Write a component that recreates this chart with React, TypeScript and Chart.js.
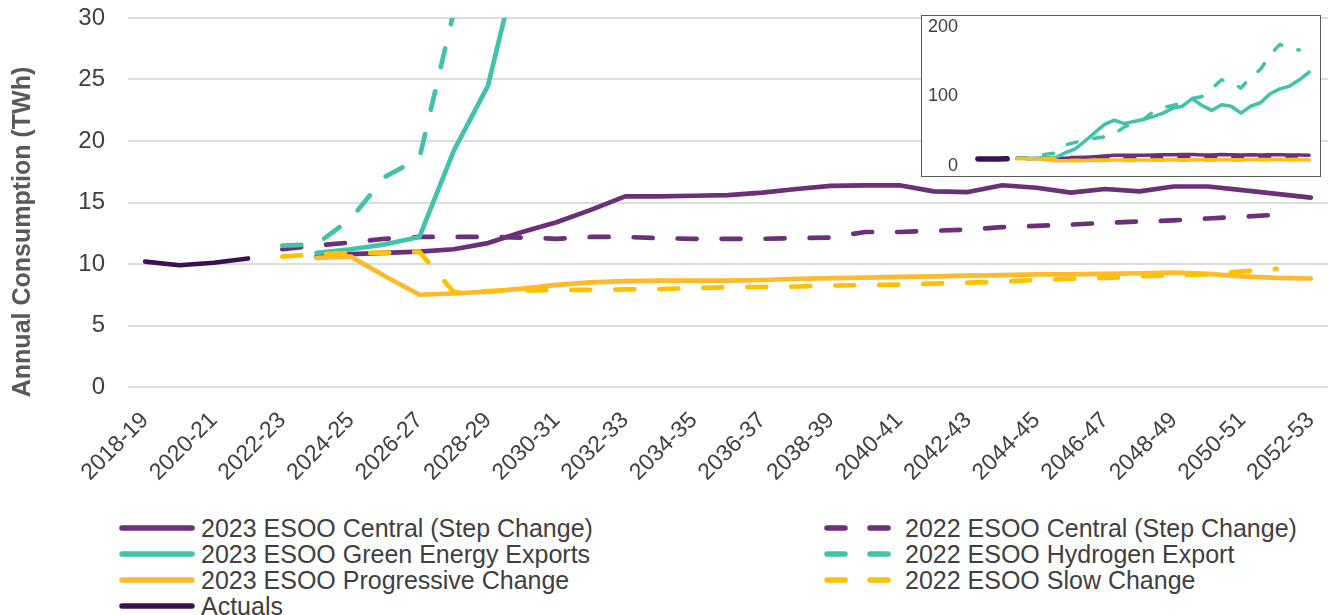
import React, { useEffect, useRef } from 'react';
import { Chart, registerables } from 'chart.js';

Chart.register(...registerables);

// ---------- data ----------
const categories = [
  '2018-19', '2019-20', '2020-21', '2021-22', '2022-23', '2023-24', '2024-25',
  '2025-26', '2026-27', '2027-28', '2028-29', '2029-30', '2030-31', '2031-32',
  '2032-33', '2033-34', '2034-35', '2035-36', '2036-37', '2037-38', '2038-39',
  '2039-40', '2040-41', '2041-42', '2042-43', '2043-44', '2044-45', '2045-46',
  '2046-47', '2047-48', '2048-49', '2049-50', '2050-51', '2051-52', '2052-53',
];

const actuals = [
  10.2, 9.9, 10.1, 10.45, null, null, null, null, null, null, null, null, null, null,
  null, null, null, null, null, null, null, null, null, null, null, null, null, null,
  null, null, null, null, null, null, null,
];

const central2023 = [
  null, null, null, null, null, 10.6, 10.8, 10.9, 11.0, 11.2, 11.7, 12.6, 13.4, 14.4,
  15.5, 15.5, 15.55, 15.6, 15.8, 16.1, 16.35, 16.4, 16.4, 15.9, 15.85, 16.4, 16.2, 15.8,
  16.1, 15.9, 16.3, 16.3, 16.0, 15.7, 15.4,
];

const central2022 = [
  null, null, null, null, 11.2, 11.5, 11.75, 12.05, 12.2, 12.2, 12.2, 12.15, 12.05, 12.2,
  12.2, 12.1, 12.05, 12.05, 12.05, 12.1, 12.15, 12.6, 12.6, 12.7, 12.8, 13.0, 13.1, 13.2,
  13.35, 13.45, 13.55, 13.7, 13.85, 14.0, null,
];

const greenExports2023 = [
  null, null, null, null, null, 10.9, 11.2, 11.6, 12.2, 19.2, 24.5, 36, 48, 60,
  66, 61, 64, 67, 71, 76, 83, 86, 97, 87, 80, 88, 86, 76,
  86, 91, 104, 111, 115, 124, 135,
];

const hydrogen2022 = [
  null, null, null, null, 11.5, 11.6, 13.7, 17.1, 18.6, 30.5, 34, 38, 40, 42,
  46, 56, 62, 67, 78, 84, 87, 91, 97, 100, 111, 124, 121, 112,
  128, 139, 160, 175, 168, 167, null,
];

const progressive2023 = [
  null, null, null, null, null, 10.5, 10.6, 9.0, 7.5, 7.6, 7.75, 8.0, 8.3, 8.5,
  8.6, 8.65, 8.65, 8.65, 8.7, 8.8, 8.85, 8.9, 8.95, 9.0, 9.05, 9.1, 9.15, 9.15,
  9.2, 9.25, 9.3, 9.2, 9.0, 8.87, 8.82,
];

const slow2022 = [
  null, null, null, null, 10.6, 10.8, 10.9, 10.9, 11.0, 7.7, 7.8, 7.85, 7.88, 7.9,
  7.93, 7.96, 8.05, 8.1, 8.13, 8.17, 8.25, 8.28, 8.33, 8.4, 8.48, 8.58, 8.7, 8.8,
  8.87, 9.0, 9.08, 9.15, 9.4, 9.6, null,
];

const mainYTicks = [0, 5, 10, 15, 20, 25, 30];
const insetYTicks = [0, 100, 200];

// ---------- styling ----------
const FONT = "'Liberation Sans', Arial, sans-serif";
const PURPLE = '#6B3079';
const TEAL = '#41C2A9';
const ORANGE = '#FDBA2C';
const YELLOW = '#FFC000';
const DARK = '#3C1053';
const TEXT = '#404040';

type Series = { label: string; data: (number | null)[]; color: string; dashed: boolean };

// Excel series order (legend flows row-wise, two columns)
const SERIES: Series[] = [
  { label: '2023 ESOO Central (Step Change)', data: central2023, color: PURPLE, dashed: false },
  { label: '2022 ESOO Central (Step Change)', data: central2022, color: PURPLE, dashed: true },
  { label: '2023 ESOO Green Energy Exports', data: greenExports2023, color: TEAL, dashed: false },
  { label: '2022 ESOO Hydrogen Export', data: hydrogen2022, color: TEAL, dashed: true },
  { label: '2023 ESOO Progressive Change', data: progressive2023, color: ORANGE, dashed: false },
  { label: '2022 ESOO Slow Change', data: slow2022, color: YELLOW, dashed: true },
  { label: 'Actuals', data: actuals, color: DARK, dashed: false },
];

const MAIN_W = 1328;
const MAIN_H = 505;
const PLOT_LEFT = 128;
const PLOT_TOP = 18;
const PLOT_BOTTOM = 387;

function buildDatasets(width: number, dash: number[], actualWidth: number) {
  // later Excel series are drawn on top: Chart.js draws index 0 last
  return [...SERIES].reverse().map((s) => ({
    label: s.label,
    data: s.data,
    borderColor: s.color,
    backgroundColor: s.color,
    borderWidth: s.label === 'Actuals' ? actualWidth : width,
    borderDash: s.dashed ? dash : [],
    borderCapStyle: 'round' as const,
    borderJoinStyle: 'round' as const,
    pointRadius: 0,
    fill: false,
    tension: 0,
    spanGaps: false,
  }));
}

const yTitlePlugin = {
  id: 'yTitle',
  afterDraw(chart: any) {
    const ctx = chart.ctx;
    ctx.save();
    ctx.translate(23, 232);
    ctx.rotate(-Math.PI / 2);
    ctx.font = `bold 25px ${FONT}`;
    ctx.fillStyle = '#595959';
    ctx.textAlign = 'center';
    ctx.textBaseline = 'middle';
    ctx.fillText('Annual Consumption (TWh)', 0, 0);
    ctx.restore();
  },
};

export default function App() {
  const mainRef = useRef<HTMLCanvasElement>(null);
  const insetRef = useRef<HTMLCanvasElement>(null);

  useEffect(() => {
    const main = new Chart(mainRef.current!, {
      type: 'line',
      data: { labels: categories, datasets: buildDatasets(4.7, [19, 25], 4.7) as any },
      options: {
        animation: false,
        responsive: false,
        maintainAspectRatio: false,
        layout: { padding: { top: PLOT_TOP, right: 0, bottom: 0, left: 0 } },
        plugins: { legend: { display: false }, tooltip: { enabled: false } },
        scales: {
          x: {
            type: 'category',
            offset: true,
            grid: { display: false, drawTicks: false },
            border: { display: false },
            ticks: {
              autoSkip: false,
              maxRotation: 45,
              minRotation: 45,
              padding: 20,
              color: TEXT,
              font: { family: FONT, size: 23 },
              callback: (_v: any, i: number) => (i % 2 === 0 ? categories[i] : ''),
            },
            afterFit: (s: any) => {
              s.height = MAIN_H - PLOT_BOTTOM;
              s.paddingLeft = 0;
              s.paddingRight = 0;
            },
          },
          y: {
            min: mainYTicks[0],
            max: mainYTicks[mainYTicks.length - 1],
            afterBuildTicks: (s: any) => {
              s.ticks = mainYTicks.map((v) => ({ value: v }));
            },
            grid: { color: '#DDDDDD', lineWidth: 2, drawTicks: false },
            border: { display: false },
            ticks: {
              padding: 23,
              color: TEXT,
              font: { family: FONT, size: 24 },
            },
            afterFit: (s: any) => {
              s.width = PLOT_LEFT;
              s.paddingTop = 0;
              s.paddingBottom = 0;
            },
          },
        },
      },
      plugins: [yTitlePlugin],
    });

    const inset = new Chart(insetRef.current!, {
      type: 'line',
      data: { labels: categories, datasets: buildDatasets(3.5, [10, 17], 5.5) as any },
      options: {
        animation: false,
        responsive: false,
        maintainAspectRatio: false,
        layout: { padding: { top: 11, right: 6, bottom: 10, left: 0 } },
        plugins: { legend: { display: false }, tooltip: { enabled: false } },
        scales: {
          x: { type: 'category', offset: true, display: false },
          y: {
            min: insetYTicks[0],
            max: insetYTicks[insetYTicks.length - 1],
            afterBuildTicks: (s: any) => {
              s.ticks = insetYTicks.map((v) => ({ value: v }));
            },
            grid: { display: false, drawTicks: false },
            border: { display: false },
            ticks: { padding: 15, color: TEXT, font: { family: FONT, size: 18 } },
            afterFit: (s: any) => {
              s.width = 51;
              s.paddingTop = 0;
              s.paddingBottom = 0;
            },
          },
        },
      },
    });

    return () => {
      main.destroy();
      inset.destroy();
    };
  }, []);

  const rowCenters = [528, 554, 580, 606];

  return (
    <div
      style={{
        position: 'absolute',
        left: 0,
        top: 0,
        width: 1328,
        height: 615,
        background: '#ffffff',
        overflow: 'hidden',
        fontFamily: FONT,
      }}
    >
      <canvas
        ref={mainRef}
        width={MAIN_W}
        height={MAIN_H}
        style={{ position: 'absolute', left: 0, top: 0, display: 'block' }}
      />
      <div
        style={{
          position: 'absolute',
          left: 921,
          top: 15,
          width: 398,
          height: 160,
          border: '1px solid #595959',
          background: '#ffffff',
        }}
      >
        <canvas ref={insetRef} width={398} height={160} style={{ display: 'block' }} />
      </div>
      {SERIES.map((s, idx) => {
        const col = idx % 2;
        const row = Math.floor(idx / 2);
        const cy = rowCenters[row];
        const textLeft = col === 0 ? 201 : 905;
        return (
          <React.Fragment key={s.label}>
            <svg
              width={100}
              height={14}
              style={{ position: 'absolute', left: col === 0 ? 110 : 815, top: cy - 7 }}
            >
              {s.dashed ? (
                <line
                  x1={12}
                  y1={7}
                  x2={74}
                  y2={7}
                  stroke={s.color}
                  strokeWidth={5.5}
                  strokeLinecap="round"
                  strokeDasharray="18 25"
                />
              ) : (
                <line
                  x1={12}
                  y1={7}
                  x2={82}
                  y2={7}
                  stroke={s.color}
                  strokeWidth={5.5}
                  strokeLinecap="round"
                />
              )}
            </svg>
            <div
              style={{
                position: 'absolute',
                left: textLeft,
                top: cy - 13,
                fontSize: 25,
                lineHeight: '26px',
                color: TEXT,
                whiteSpace: 'nowrap',
              }}
            >
              {s.label}
            </div>
          </React.Fragment>
        );
      })}
    </div>
  );
}
